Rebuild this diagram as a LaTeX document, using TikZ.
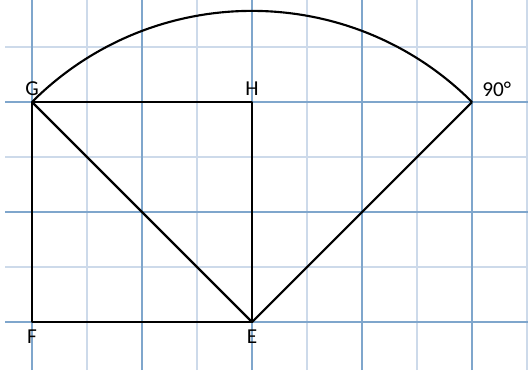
\documentclass[tikz,border=0pt]{standalone}
\usepackage{fontspec}
\setmainfont{Carlito}
\usetikzlibrary{calc}
\definecolor{gridmajor}{HTML}{7FA6CC}
\definecolor{gridminor}{HTML}{CDDAEA}
\tikzset{
  pt/.style={inner sep=0pt, minimum size=0pt},
  lbl/.style={inner sep=0pt, font=\fontsize{11}{13}\selectfont},
  edge/.style={line width=1.1pt, black, line join=round},
}
\begin{document}
\begin{tikzpicture}
  \useasboundingbox (-0.582,-0.873) rectangle (9.018,5.855);
  % grid paper
  \foreach \x in {1,3,5,7,9}
    \draw[gridminor, line width=0.8pt] (\x,-0.873) -- (\x,5.855);
  \foreach \y in {1,3,5}
    \draw[gridminor, line width=0.8pt] (-0.49,\y) -- (9.018,\y);
  \foreach \x in {0,2,4,6,8}
    \draw[gridmajor, line width=0.8pt] (\x,-0.873) -- (\x,5.855);
  \foreach \y in {0,2,4}
    \draw[gridmajor, line width=0.8pt] (-0.49,\y) -- (9.018,\y);

  % points
  \node[pt] (F) at (0,0) {};
  \node[pt] (E) at (4,0) {};
  \node[pt] (H) at (4,4) {};
  \node[pt] (G) at (0,4) {};
  \node[pt] (R) at (8,4) {};

  % labels
  \node[lbl, anchor=south] (gl) at ($(G)+(0,0.11)$) {G};
  \node[lbl, anchor=south] (hl) at ($(H)+(0,0.11)$) {H};
  \node[lbl, anchor=north] (fl) at ($(F)+(0,-0.14)$) {F};
  \node[lbl, anchor=north] (el) at ($(E)+(0,-0.14)$) {E};
  \node[lbl, anchor=south west] (rl) at ($(R)+(0.18,0.09)$) {90°};

  % square, diagonal and turned diagonal
  \draw[edge] (F.center) -- (E.center) -- (H.center) -- (G.center) -- cycle;
  \draw[edge] (G.center) -- (E.center) -- (R.center);
  \draw[edge] (R.center) arc[start angle=45, end angle=135, radius=5.657];
\end{tikzpicture}
\end{document}
